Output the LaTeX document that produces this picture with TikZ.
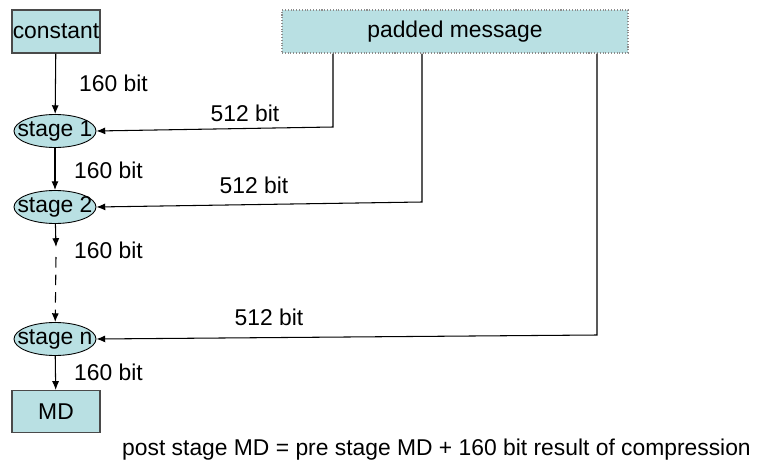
\documentclass[tikz,border=0pt]{standalone}
\usepackage{fontspec}
\setmainfont{Liberation Sans}
\usepackage{tikz}
\usetikzlibrary{calc,arrows.meta}
\usetikzlibrary{shapes.geometric}
\usetikzlibrary{positioning}
\definecolor{sha-fill}{HTML}{B9E0E3}
\definecolor{sha-edge}{HTML}{4A4A4A}
\definecolor{sha-dots}{HTML}{8C8C8C}

\begin{document}
\begin{tikzpicture}[>={Latex[length=5pt,width=4pt]},
    every node/.style={font=\fontsize{13}{15.6}\selectfont},
    blockbox/.style={draw=sha-edge, fill=sha-fill, line width=0.6pt, inner sep=0pt,
        minimum width=1.76cm, minimum height=0.86cm},
    stagenode/.style={ellipse, draw=black, fill=sha-fill, line width=0.5pt,
        inner xsep=-0.172cm, inner ysep=0pt, minimum width=1.64cm, minimum height=0.66cm},
    flow/.style={->, line width=0.6pt}]

    \useasboundingbox (0,0) rectangle (15.26,9.34);

    % --- BLOCOS DE ENTRADA ---
    \node[blockbox] (constant) at (1.12,8.71) {constant};
    \node[blockbox, draw=sha-dots, densely dotted, minimum width=6.92cm] (padded) at (9.10,8.71) {padded message};

    % --- ESTAGIOS DE COMPRESSAO ---
    \node[stagenode] (stage1) at (1.10,6.72) {stage 1};
    \node[stagenode] (stage2) at (1.10,5.20) {stage 2};
    \node[stagenode] (stagen) at (1.10,2.56) {stage n};
    \node[blockbox, minimum height=0.84cm] (md) at (1.12,1.11) {MD};

    % --- CADEIA DE 160 BIT ---
    \coordinate (gapTop) at (1.12,4.40);
    \coordinate (gapBot) at (1.12,4.20);
    \draw[flow] (constant) -- (stage1);
    \draw[flow] (stage1) -- (stage2);
    \draw[flow] (stage2) -- (gapTop);
    \draw[flow, dash pattern=on 6pt off 4pt] (gapBot) -- (stagen);
    \draw[flow] (stagen) -- (md);

    \node[anchor=west] (w1) at (1.46,7.68) {160 bit};
    \node[anchor=west] (w2) at (1.36,5.94) {160 bit};
    \node[anchor=west] (w3) at (1.36,4.34) {160 bit};
    \node[anchor=west] (w4) at (1.36,1.90) {160 bit};

    % --- BLOCOS DE 512 BIT DA MENSAGEM ---
    \coordinate (bend1) at (6.66,6.80);
    \coordinate (bend2) at (8.44,5.30);
    \coordinate (bend3) at (11.94,2.64);
    \draw[flow] (padded.south -| bend1) -- (bend1) -- (stage1.east);
    \draw[flow] (padded.south -| bend2) -- (bend2) -- (stage2.east);
    \draw[flow] (padded.south -| bend3) -- (bend3) -- (stagen.east);

    \node (m1) at (4.90,7.08) {512 bit};
    \node (m2) at (5.08,5.64) {512 bit};
    \node (m3) at (5.38,2.99) {512 bit};

    % nota final
    \node (note) at (8.73,0.34) {post stage MD = pre stage MD + 160 bit result of compression};

\end{tikzpicture}
\end{document}
